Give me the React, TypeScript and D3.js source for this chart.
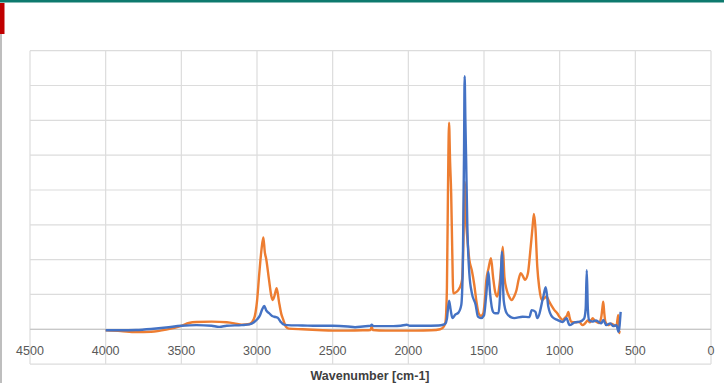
import React, { useEffect, useRef } from "react";
import * as d3 from "d3";

// FTIR spectra: wavenumber (cm-1) and absorbance for the two samples
const orangeWn = [
  4000, 3900, 3800, 3700, 3600, 3500, 3450, 3400, 3300, 3200, 3150, 3100, 3050, 3020, 3000,
  2985, 2970, 2958, 2948, 2940, 2920, 2905, 2896, 2885, 2870, 2855, 2840, 2826, 2810, 2790,
  2700, 2600, 2500, 2400, 2300, 2250, 2242, 2235, 2150, 2050, 1950, 1850, 1790, 1770, 1755,
  1745, 1738, 1731, 1724, 1717, 1710, 1703, 1690, 1675, 1660, 1645, 1636, 1628, 1620, 1610,
  1597, 1581, 1565, 1550, 1535, 1520, 1505, 1495, 1485, 1470, 1454, 1440, 1425, 1412, 1400,
  1390, 1376, 1365, 1350, 1335, 1317, 1300, 1285, 1270, 1257, 1240, 1229, 1210, 1195, 1180,
  1170, 1160, 1148, 1135, 1119, 1100, 1086, 1070, 1053, 1035, 1016, 1000, 980, 965, 950,
  943, 935, 925, 900, 870, 850, 830, 815, 800, 782, 770, 758, 740, 725, 718,
  712, 706, 698, 680, 660, 640, 625, 613, 607, 603,
];
const orangeAbs = [
  -0.03, -0.05, -0.08, -0.07, -0.01, 0.1, 0.18, 0.21, 0.22, 0.2, 0.17, 0.13, 0.15, 0.3, 0.8,
  1.6, 2.3, 2.64, 2.2, 2.04, 1.4, 0.95, 0.84, 0.95, 1.18, 0.8, 0.45, 0.27, 0.08, 0.02,
  0.0, -0.02, -0.04, -0.04, -0.03, -0.02, 0.08, -0.02, -0.04, -0.04, -0.04, -0.03, 0.0, 0.05, 0.2,
  1.2, 4.0, 5.93, 4.8, 3.91, 2.3, 1.03, 1.05, 1.1, 1.2, 1.42, 2.5, 4.24, 3.2, 2.6,
  2.0, 1.7, 1.3, 0.8, 0.45, 0.38, 0.45, 0.8, 1.4, 1.75, 2.04, 1.5, 1.05, 0.94, 1.2,
  1.6, 2.37, 1.5, 1.13, 0.95, 0.84, 0.95, 1.13, 1.45, 1.61, 1.5, 1.42, 1.6, 2.2, 2.9,
  3.31, 2.9, 1.8, 1.2, 0.84, 0.9, 0.94, 0.8, 0.67, 0.55, 0.46, 0.35, 0.27, 0.33, 0.41,
  0.5, 0.35, 0.22, 0.2, 0.21, 0.12, 0.18, 0.25, 0.2, 0.32, 0.25, 0.22, 0.18, 0.35, 0.6,
  0.79, 0.5, 0.22, 0.12, 0.16, 0.12, 0.09, 0.41, -0.11, -0.05,
];

const blueWn = [
  4000, 3900, 3800, 3700, 3600, 3500, 3400, 3300, 3250, 3200, 3100, 3050, 3020, 3000, 2980,
  2965, 2952, 2940, 2919, 2900, 2885, 2863, 2845, 2826, 2800, 2700, 2600, 2500, 2400, 2352,
  2300, 2250, 2242, 2230, 2100, 2050, 2011, 1990, 1900, 1800, 1770, 1755, 1745, 1731, 1720,
  1709, 1690, 1670, 1650, 1640, 1632, 1628, 1623, 1618, 1610, 1597, 1580, 1555, 1540, 1520,
  1500, 1485, 1471, 1460, 1440, 1427, 1405, 1390, 1382, 1370, 1350, 1320, 1300, 1245, 1200,
  1185, 1160, 1148, 1108, 1092, 1075, 1050, 1016, 980, 955, 935, 900, 866, 839, 828,
  821, 814, 806, 785, 760, 725, 712, 692, 666, 645, 625, 611, 597,
];
const blueAbs = [
  -0.03, -0.03, -0.02, 0.01, 0.05, 0.1, 0.12, 0.1, 0.07, 0.1, 0.12, 0.14, 0.2, 0.28, 0.4,
  0.58, 0.67, 0.55, 0.46, 0.38, 0.36, 0.33, 0.22, 0.14, 0.12, 0.11, 0.1, 0.1, 0.08, 0.06,
  0.08, 0.1, 0.13, 0.09, 0.09, 0.1, 0.13, 0.1, 0.1, 0.11, 0.13, 0.16, 0.3, 0.82, 0.55,
  0.32, 0.42, 0.47, 0.7, 1.8, 5.0, 7.27, 6.0, 4.86, 2.95, 1.61, 1.03, 0.7, 0.36, 0.32,
  0.4, 1.0, 1.65, 1.04, 0.5, 0.46, 0.46, 1.32, 2.23, 0.84, 0.46, 0.34, 0.32, 0.36, 0.35,
  0.55, 0.5, 0.32, 0.94, 1.21, 0.65, 0.36, 0.27, 0.21, 0.32, 0.12, 0.2, 0.22, 0.3, 0.6,
  1.7, 0.6, 0.27, 0.22, 0.25, 0.17, 0.27, 0.12, 0.17, 0.09, 0.12, -0.07, 0.5,
];

const xTicks = [4500, 4000, 3500, 3000, 2500, 2000, 1500, 1000, 500, 0];
const yGrid = [-1, 0, 1, 2, 3, 4, 5, 6, 7, 8];
const xTitle = "Wavenumber [cm-1]";

const W = 724;
const H = 383;

export default function App() {
  const ref = useRef<SVGSVGElement | null>(null);

  useEffect(() => {
    const svg = d3.select(ref.current);
    svg.selectAll("*").remove();

    const x = d3.scaleLinear().domain([4500, 0]).range([30, 711]);
    const y = d3.scaleLinear().domain([-1, 8]).range([364.1, 50.7]);

    // page decorations
    svg.append("rect").attr("x", 0).attr("y", 0).attr("width", W).attr("height", 2.5).attr("fill", "#0d7a6e");
    svg.append("rect").attr("x", 0).attr("y", 3).attr("width", 4.5).attr("height", 31).attr("fill", "#c00000");
    svg.append("line").attr("x1", 1).attr("x2", 1).attr("y1", 34).attr("y2", H).attr("stroke", "#a8a8a8").attr("stroke-width", 1.5);

    // gridlines
    const grid = svg.append("g").attr("stroke", "#dcdcdc").attr("stroke-width", 1.2);
    grid.selectAll("line.h").data(yGrid).join("line")
      .attr("x1", x(4500)).attr("x2", x(0))
      .attr("y1", (d) => y(d)).attr("y2", (d) => y(d));
    grid.selectAll("line.v").data(xTicks).join("line")
      .attr("x1", (d) => x(d)).attr("x2", (d) => x(d))
      .attr("y1", y(8)).attr("y2", y(-1));

    // horizontal axis at zero
    svg.append("line")
      .attr("x1", x(4500)).attr("x2", x(0))
      .attr("y1", y(0)).attr("y2", y(0))
      .attr("stroke", "#c8c8c8").attr("stroke-width", 1.3);

    // tick labels
    svg.append("g").selectAll("text").data(xTicks).join("text")
      .attr("x", (d) => x(d)).attr("y", 354.5)
      .attr("text-anchor", "middle")
      .attr("font-family", "'Liberation Sans', Arial, sans-serif")
      .attr("font-size", 12.5)
      .attr("fill", "#595959")
      .text((d) => String(d));

    svg.append("text")
      .attr("x", 370).attr("y", 379.5)
      .attr("text-anchor", "middle")
      .attr("font-family", "'Liberation Sans', Arial, sans-serif")
      .attr("font-size", 12.5)
      .attr("font-weight", "bold")
      .attr("fill", "#404040")
      .text(xTitle);

    const line = d3.line<[number, number]>()
      .x((d) => x(d[0]))
      .y((d) => y(d[1]))
      .curve(d3.curveMonotoneX);

    const orange: [number, number][] = orangeWn.map((w, i) => [w, orangeAbs[i]]);
    const blue: [number, number][] = blueWn.map((w, i) => [w, blueAbs[i]]);

    svg.append("path").datum(orange).attr("d", line)
      .attr("fill", "none").attr("stroke", "#ED7D31").attr("stroke-width", 2.4)
      .attr("stroke-linejoin", "round");
    svg.append("path").datum(blue).attr("d", line)
      .attr("fill", "none").attr("stroke", "#4472C4").attr("stroke-width", 2.4)
      .attr("stroke-linejoin", "round");
  }, []);

  return (
    <svg
      ref={ref}
      width={W}
      height={H}
      style={{ position: "absolute", left: 0, top: 0, background: "#fff" }}
    />
  );
}
